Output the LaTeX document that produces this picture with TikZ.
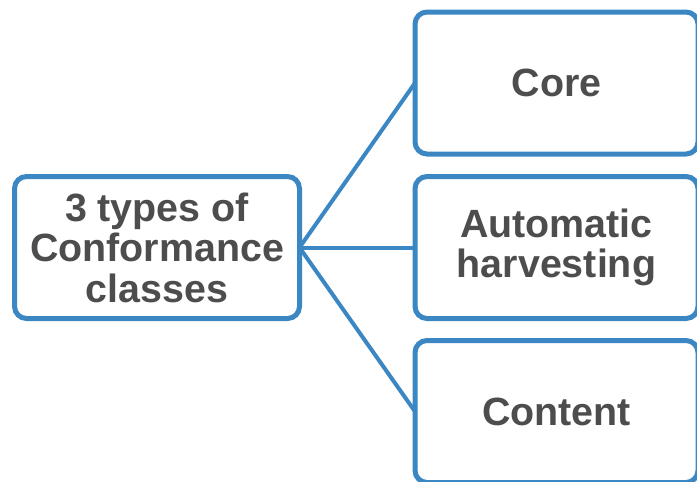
\documentclass[tikz,border=0pt]{standalone}
\usepackage{fontspec}
\setmainfont{Liberation Sans}
\definecolor{boxblue}{HTML}{3A87C4}
\definecolor{txtgray}{HTML}{4D4D4D}
\begin{document}
\begin{tikzpicture}[x=1pt,y=-1pt,
  box/.style={draw=boxblue, line width=5pt, rounded corners=12pt, fill=white,
    minimum width=283pt, minimum height=142pt, inner sep=0pt, outer sep=0pt,
    align=center, text=txtgray,
    font=\fontsize{39.4}{40.5}\selectfont\bfseries},
  conn/.style={draw=boxblue, line width=4pt}]
\useasboundingbox (0,0) rectangle (697,482);
\clip (0,0) rectangle (697,482);
\node[box, minimum width=285pt] (src) at (157,247.5) {3 types of\\Conformance\\classes};
\node[box] (core) at (556.5,83) {Core};
\node[box] (auto) at (556.5,247.5) {Automatic\\harvesting};
\node[box] (cont) at (556.5,411.5) {Content};
\draw[conn] (src.east) -- (core.west);
\draw[conn] (src.east) -- (auto.west);
\draw[conn] (src.east) -- (cont.west);
\end{tikzpicture}
\end{document}
